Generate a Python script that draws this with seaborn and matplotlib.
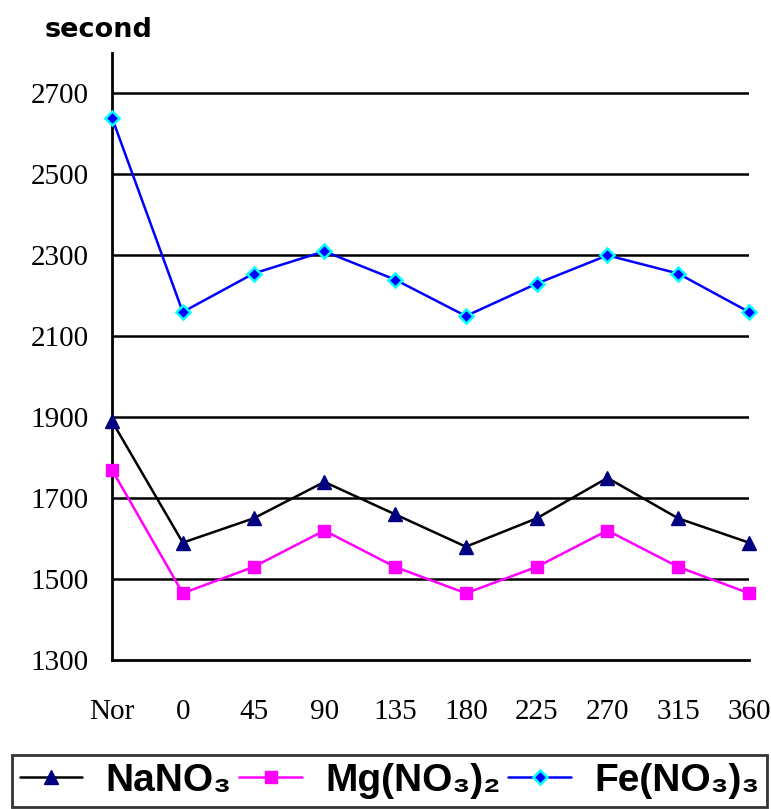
import matplotlib
matplotlib.use("Agg")
import matplotlib.pyplot as plt
from matplotlib import font_manager
import seaborn as sns
import pandas as pd

# Data
angles = ["Nor", "0", "45", "90", "135", "180", "225", "270", "315", "360"]
nano3 = [1890, 1590, 1650, 1740, 1660, 1580, 1650, 1750, 1650, 1590]
mg_no3_2 = [1770, 1465, 1530, 1620, 1530, 1465, 1530, 1620, 1530, 1465]
fe_no3_3 = [2640, 2160, 2255, 2310, 2240, 2150, 2230, 2300, 2255, 2160]
series_names = ["NaNO₃", "Mg(NO₃)₂", "Fe(NO₃)₃"]
y_ticks = [1300, 1500, 1700, 1900, 2100, 2300, 2500, 2700]


def pick_family(candidates):
    for fam in candidates:
        try:
            font_manager.findfont(font_manager.FontProperties(family=fam),
                                  fallback_to_default=False)
            return fam
        except Exception:
            continue
    return "DejaVu Sans"


sns.set_style("white")
plt.rcParams.update({
    "text.color": "black",
    "axes.labelcolor": "black",
    "xtick.color": "black",
    "ytick.color": "black",
})
serif = pick_family(["Liberation Serif", "DejaVu Serif"])
narrow = pick_family(["Liberation Sans Narrow", "Liberation Sans", "DejaVu Sans"])

fig = plt.figure(figsize=(7.71, 8.09), dpi=100)
ax = fig.add_axes([112 / 771, 1 - 660 / 809, (749 - 112) / 771, (660 - 53) / 809])

pos = list(range(len(angles)))
styles = [
    dict(values=nano3, color="black", marker="^", ms=10, mfc="#000080", mec="#000080", mew=1),
    dict(values=mg_no3_2, color="#FF00FF", marker="s", ms=9, mfc="#FF00FF", mec="#FF00FF", mew=1),
    dict(values=fe_no3_3, color="#0000FF", marker="D", ms=7, mfc="#0000FF", mec="#00FFFF", mew=1.8),
]

handles = []
for name, st in zip(series_names, styles):
    df = pd.DataFrame({"pos": pos, "value": st["values"]})
    n_before = len(ax.lines)
    sns.lineplot(data=df, x="pos", y="value", ax=ax, color=st["color"],
                 linewidth=1.8, marker=st["marker"], markersize=st["ms"],
                 legend=False, zorder=3, clip_on=False)
    line = ax.lines[n_before]
    line.set_markerfacecolor(st["mfc"])
    line.set_markeredgecolor(st["mec"])
    line.set_markeredgewidth(st["mew"])
    line.set_label(name)
    handles.append(line)

ax.set_xlim(0, len(angles) - 1)
ax.set_ylim(1300, 2800)
ax.set_xticks(pos)
ax.set_xticklabels(angles)
ax.set_yticks(y_ticks)
ax.set_xlabel("")
ax.set_ylabel("")

ax.grid(False)
for yv in y_ticks[1:]:
    ax.axhline(yv, color="black", linewidth=1.8, zorder=1)

for side in ["top", "right"]:
    ax.spines[side].set_visible(False)
for side in ["left", "bottom"]:
    ax.spines[side].set_color("black")
    ax.spines[side].set_linewidth(2)

ax.tick_params(axis="x", direction="in", length=10, width=1.5, pad=28,
               labelsize=21, colors="black")
ax.tick_params(axis="y", direction="in", length=8, width=1.5, pad=17,
               labelsize=21, colors="black")
for lbl in ax.get_xticklabels() + ax.get_yticklabels():
    lbl.set_family(serif)

fig.text(45 / 771, 1 - 30 / 809, "second", fontsize=19.5, fontweight="bold",
         family="DejaVu Sans", color="black", ha="left", va="center")

leg = fig.legend(handles=handles, labels=series_names, loc="upper left",
                 bbox_to_anchor=(12 / 771, 1 - 755 / 809, 755 / 771, 0),
                 mode="expand", ncol=3, frameon=True, fancybox=False,
                 borderpad=0.2, handlelength=1.6, handletextpad=0.6,
                 columnspacing=0.6, borderaxespad=0, labelcolor="black",
                 prop={"family": [narrow, "DejaVu Sans"], "weight": "bold", "size": 28})
leg.get_frame().set_edgecolor("black")
leg.get_frame().set_linewidth(2)

fig.savefig("out.png", dpi=100)
